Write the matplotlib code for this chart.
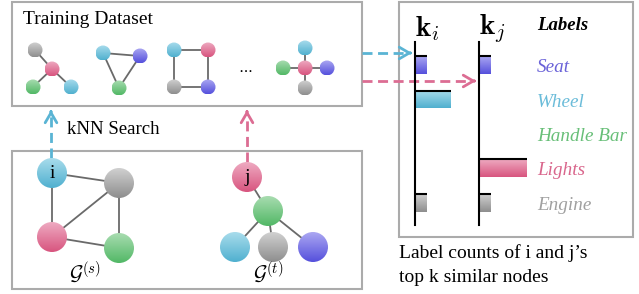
import numpy as np
import matplotlib.pyplot as plt
from matplotlib.patches import Circle, Rectangle
from matplotlib.colors import LinearSegmentedColormap

plt.rcParams['mathtext.fontset'] = 'cm'
SERIF = 'Liberation Serif'

# label counts of the top-k neighbours of i and j
labels = ['Seat', 'Wheel', 'Handle Bar', 'Lights', 'Engine']
label_keys = ['purple', 'cyan', 'green', 'pink', 'gray']
counts_i = [1, 3, 0, 0, 1]
counts_j = [1, 0, 0, 4, 1]

# (top, bottom) gradient colours per node colour
shades = {
    'cyan': ('#a8dcec', '#50b0cf'),
    'pink': ('#eeaac1', '#d8557f'),
    'gray': ('#d0d0d0', '#8e8e8e'),
    'green': ('#a8dcb0', '#52b866'),
    'purple': ('#aba7f2', '#5550dc'),
}
text_colors = {'purple': '#6a62d8', 'cyan': '#6bbcd9', 'green': '#68bf78',
               'pink': '#d9668c', 'gray': '#a0a0a0'}

fig = plt.figure(figsize=(6.39, 2.94), dpi=100)
ax = fig.add_axes([0, 0, 1, 1])


def grad(a, extent, key, clip=None, z=3):
    cmap = LinearSegmentedColormap.from_list('g_' + key, shades[key])
    im = a.imshow(np.linspace(0, 1, 64).reshape(-1, 1), extent=extent, cmap=cmap,
                  aspect='auto', origin='upper', zorder=z, interpolation='bilinear')
    if clip is not None:
        im.set_clip_path(clip)
    return im


def node(x, y, r, key, text=None):
    c = Circle((x, y), r, fc='none', ec='none', zorder=3)
    ax.add_patch(c)
    grad(ax, (x - r, x + r, y + r, y - r), key, clip=c)
    if text:
        ax.text(x, y, text, fontsize=14, family=SERIF, ha='center', va='center', zorder=4)


def graph(nodes, edges, r, texts=None):
    for a, b in edges:
        ax.plot([nodes[a][0], nodes[b][0]], [nodes[a][1], nodes[b][1]],
                color='#6a6a6a', lw=1.3, zorder=2)
    for n, (x, y, k) in enumerate(nodes):
        t = texts.get(n) if texts else None
        node(x, y, r, k, t)


def dashed_arrow(x0, y0, x1, y1, color):
    d = np.array([x1 - x0, y1 - y0], float)
    d /= np.hypot(*d)
    ax.plot([x0, x1 - d[0] * 4], [y0, y1 - d[1] * 4], color=color, lw=2,
            dashes=(3.6, 2), zorder=1)
    ax.annotate('', xy=(x1, y1), xytext=(x1 - d[0] * 2, y1 - d[1] * 2),
                arrowprops=dict(arrowstyle='->,head_length=0.6,head_width=0.35',
                                color=color, lw=2, shrinkA=0, shrinkB=0,
                                mutation_scale=12))


# boxes
for x, y, w, h in [(12, 2, 350, 104), (12, 151, 350, 138), (399, 2, 234, 235)]:
    ax.add_patch(Rectangle((x, y), w, h, fc='none', ec='#ababab', lw=1.5, zorder=0))

ax.text(23, 20, 'Training Dataset', fontsize=14, family=SERIF, va='center')

# training graphs
graph([(35, 50, 'gray'), (52, 69, 'pink'), (33, 87, 'green'), (71, 87, 'cyan')],
      [(0, 1), (1, 2), (1, 3)], 7.5)
graph([(103, 53, 'cyan'), (140, 56, 'purple'), (119, 88, 'green')],
      [(0, 1), (0, 2), (1, 2)], 7.5)
graph([(174, 50, 'cyan'), (208, 50, 'pink'), (174, 87, 'gray'), (208, 87, 'purple')],
      [(0, 1), (0, 2), (1, 3), (2, 3)], 7.5)
ax.text(245, 68, r'$\cdots$', fontsize=11, ha='center', va='center')
graph([(305, 68, 'pink'), (283, 68, 'green'), (305, 48, 'cyan'), (305, 88, 'gray'),
       (327, 68, 'purple')],
      [(0, 1), (0, 2), (0, 3), (0, 4)], 7.5)

# query graphs
graph([(52, 173, 'cyan'), (119, 183, 'gray'), (52, 237, 'pink'), (119, 248, 'green')],
      [(0, 1), (0, 2), (2, 1), (2, 3), (1, 3)], 15, texts={0: 'i'})
graph([(247, 177, 'pink'), (268, 211, 'green'), (235, 247, 'cyan'), (273, 247, 'gray'),
       (313, 247, 'purple')],
      [(0, 1), (1, 2), (1, 3), (1, 4)], 15, texts={0: 'j'})
ax.text(85, 273, r'$\mathcal{G}^{(s)}$', fontsize=15, ha='center', va='center')
ax.text(268, 273, r'$\mathcal{G}^{(t)}$', fontsize=15, ha='center', va='center')

# kNN search arrows
dashed_arrow(51, 158, 51, 110, '#5ab4d4')
ax.text(67, 130, 'kNN Search', fontsize=13.5, family=SERIF, va='center')
dashed_arrow(247, 162, 247, 110, '#dc6d93')
dashed_arrow(362, 53, 412, 53, '#5ab4d4')
dashed_arrow(362, 81, 476, 81, '#dc6d93')

# label count panels
ax.text(427, 29, r'$\mathbf{k}_{i}$', fontsize=21, ha='center', va='center')
ax.text(492, 29, r'$\mathbf{k}_{j}$', fontsize=21, ha='center', va='center')
ax.text(537, 25, 'Labels', fontsize=13.5, family=SERIF, style='italic',
        weight='bold', va='center')

pos = np.arange(len(labels))
for x0, counts in [(415, counts_i), (479, counts_j)]:
    bx = fig.add_axes([x0 / 639, (294 - 225) / 294, 60 / 639, 183 / 294])
    bx.set_xlim(0, 5)
    bx.set_ylim(4.65, -0.67)
    bars = bx.barh(pos, counts, height=0.52, color='none')
    for b, key in zip(bars, label_keys):
        w = b.get_width()
        if w > 0:
            y, h = b.get_y(), b.get_height()
            grad(bx, (0, w, y + h, y), key, z=2)
            bx.hlines(y, 0, w, color='k', lw=1.5, zorder=3)
    bx.set_xlim(0, 5)
    bx.set_ylim(4.65, -0.67)
    for s in ['top', 'right', 'bottom']:
        bx.spines[s].set_visible(False)
    bx.spines['left'].set_linewidth(1.5)
    bx.spines['left'].set_zorder(4)
    bx.set_xticks([])
    bx.set_yticks([])
    bx.patch.set_visible(False)
    if x0 == 479:
        for p, lab, key in zip(pos, labels, label_keys):
            bx.text(4.85, p + 0.08, lab, fontsize=13.8, family=SERIF, style='italic',
                    color=text_colors[key], va='center', clip_on=False)

ax.text(399, 253, 'Label counts of i and j\u2019s', fontsize=14, family=SERIF, va='center')
ax.text(399, 277, 'top k similar nodes', fontsize=14, family=SERIF, va='center')

ax.set_xlim(0, 639)
ax.set_ylim(294, 0)
ax.axis('off')
fig.savefig('out.png', dpi=100)
